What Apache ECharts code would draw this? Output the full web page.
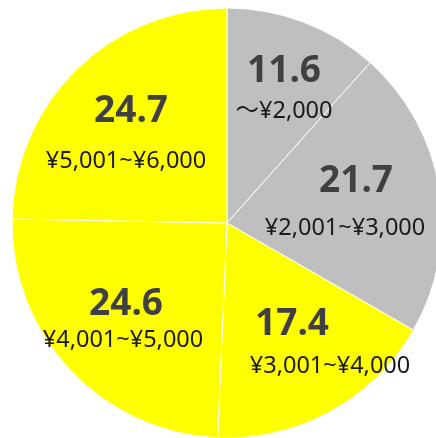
<!DOCTYPE html>
<html>
<head>
<meta charset="utf-8">
<script src="https://cdn.jsdelivr.net/npm/echarts@6/dist/echarts.min.js"></script>
<style>
  html, body { margin: 0; padding: 0; background: #fff; }
  #myChart { width: 436px; height: 438px; }
</style>
</head>
<body>
<div id="myChart"></div>
<script>
// 価格帯ごとの割合 (%)
var categories = ["～¥2,000", "¥2,001~¥3,000", "¥3,001~¥4,000", "¥4,001~¥5,000", "¥5,001~¥6,000"];
var values = [11.6, 21.7, 17.4, 24.6, 24.7];
var sliceColors = ["#BFBFBF", "#BFBFBF", "#FFFF00", "#FFFF00", "#FFFF00"];

// ラベル位置 (px)
var numberPos = [[284, 71], [356, 181], [292, 324], [126, 304], [131, 111]];
var rangePos = [[284, 111], [345, 228], [330, 366], [123, 340], [126, 161]];

var myChart = echarts.init(document.getElementById("myChart"));

var pieData = values.map(function (v, i) {
  return { name: categories[i], value: v, itemStyle: { color: sliceColors[i] } };
});
var pieGhost = values.map(function (v, i) {
  return { name: categories[i], value: v };
});

var option = {
  animation: false,
  series: [
    {
      type: "pie",
      center: [227, 223],
      radius: 215,
      startAngle: 90,
      clockwise: true,
      silent: true,
      itemStyle: { borderColor: "#ffffff", borderWidth: 1 },
      label: {
        show: true,
        position: "inside",
        formatter: function (p) { return p.value.toFixed(1); },
        fontFamily: "Noto Sans",
        fontWeight: "bold",
        fontSize: 37,
        color: "#404040"
      },
      labelLine: { show: false },
      labelLayout: function (p) {
        return { x: numberPos[p.dataIndex][0], y: numberPos[p.dataIndex][1], align: "center", verticalAlign: "middle" };
      },
      data: pieData
    },
    {
      type: "pie",
      center: [227, 223],
      radius: 215,
      startAngle: 90,
      clockwise: true,
      silent: true,
      itemStyle: { color: "rgba(0,0,0,0)", borderWidth: 0 },
      label: {
        show: true,
        position: "inside",
        formatter: "{b}",
        fontFamily: "Noto Sans, Noto Sans CJK JP",
        fontSize: 23.5,
        color: "#1a1a1a"
      },
      labelLine: { show: false },
      labelLayout: function (p) {
        return { x: rangePos[p.dataIndex][0], y: rangePos[p.dataIndex][1], align: "center", verticalAlign: "middle" };
      },
      data: pieGhost
    }
  ]
};

myChart.setOption(option);
</script>
</body>
</html>
